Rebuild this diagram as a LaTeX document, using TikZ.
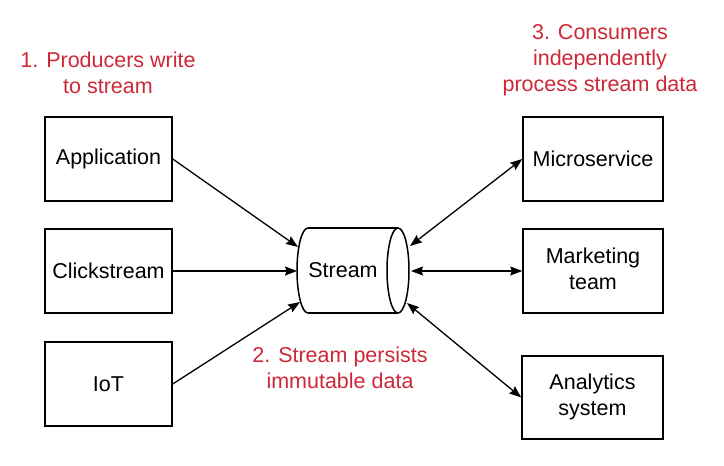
\documentclass[tikz,border=0pt]{standalone}
\usepackage{fontspec}
\setmainfont{Liberation Sans}
\usetikzlibrary{arrows.meta}
\definecolor{labelred}{RGB}{205,40,55}
\tikzset{
  box/.style={draw, line width=1.5pt, rectangle, inner sep=0pt, align=center, font=\fontsize{21.5}{25.8}\selectfont},
  note/.style={text=labelred, align=center, inner sep=0pt, font=\fontsize{21.5}{25.8}\selectfont},
  conn/.style={line width=1.3pt, -{Stealth[length=12pt,width=9pt,inset=1.5pt]}},
  biconn/.style={line width=1.3pt, {Stealth[length=12pt,width=9pt,inset=1.5pt]}-{Stealth[length=12pt,width=9pt,inset=1.5pt]}}
}
\begin{document}
\begin{tikzpicture}[x=1pt,y=1pt]
\useasboundingbox (0,0) rectangle (724,466);
% producers
\node[box, minimum width=127pt, minimum height=84pt] (app) at (108.5,307) {Application};
\node[box, minimum width=127pt, minimum height=84pt] (click) at (108.5,195) {Clickstream};
\node[box, minimum width=127pt, minimum height=84pt] (iot) at (108.5,82) {IoT};
% consumers
\node[box, minimum width=140pt, minimum height=84pt] (ms) at (593,307) {\raisebox{1pt}{Microservice}};
\node[box, minimum width=140pt, minimum height=84pt] (mk) at (593,195) {\raisebox{3pt}{\begin{tabular}{@{}c@{}}Marketing\\team\end{tabular}}};
\node[box, minimum width=141pt, minimum height=83pt] (an) at (592.5,68.5) {\raisebox{1pt}{\begin{tabular}{@{}c@{}}Analytics\\system\end{tabular}}};
% stream cylinder
\draw[line width=1.5pt] (308,238) -- (398,238) (308,153) -- (398,153);
\draw[line width=1.5pt] (308,238) arc[start angle=90,end angle=270,x radius=11pt,y radius=42.5pt];
\draw[line width=1.5pt] (398,195.5) ellipse [x radius=11pt, y radius=42.5pt];
\node[inner sep=0pt, font=\fontsize{21.5}{25.8}\selectfont] (s) at (343,195.5) {Stream};
\coordinate (sin1) at (298,219);
\coordinate (sin2) at (297,195);
\coordinate (sin3) at (300,164);
\coordinate (sout1) at (410,220);
\coordinate (sout2) at (411,195);
\coordinate (sout3) at (407,163);
% connectors
\draw[conn] (app.east) -- (sin1);
\draw[conn] (click.east) -- (sin2);
\draw[conn] (iot.east) -- (sin3);
\draw[biconn] (sout1) -- (ms.west);
\draw[biconn] (sout2) -- (mk.west);
\draw[biconn] (sout3) -- (an.west);
% labels
\node[note] (n1) at (108,393) {1. Producers write\\to stream};
\node[note] (n2) at (340,98) {2. Stream persists\\immutable data};
\node[note] (n3) at (600,406) {3. Consumers\\independently\\process stream data};
\end{tikzpicture}
\end{document}
